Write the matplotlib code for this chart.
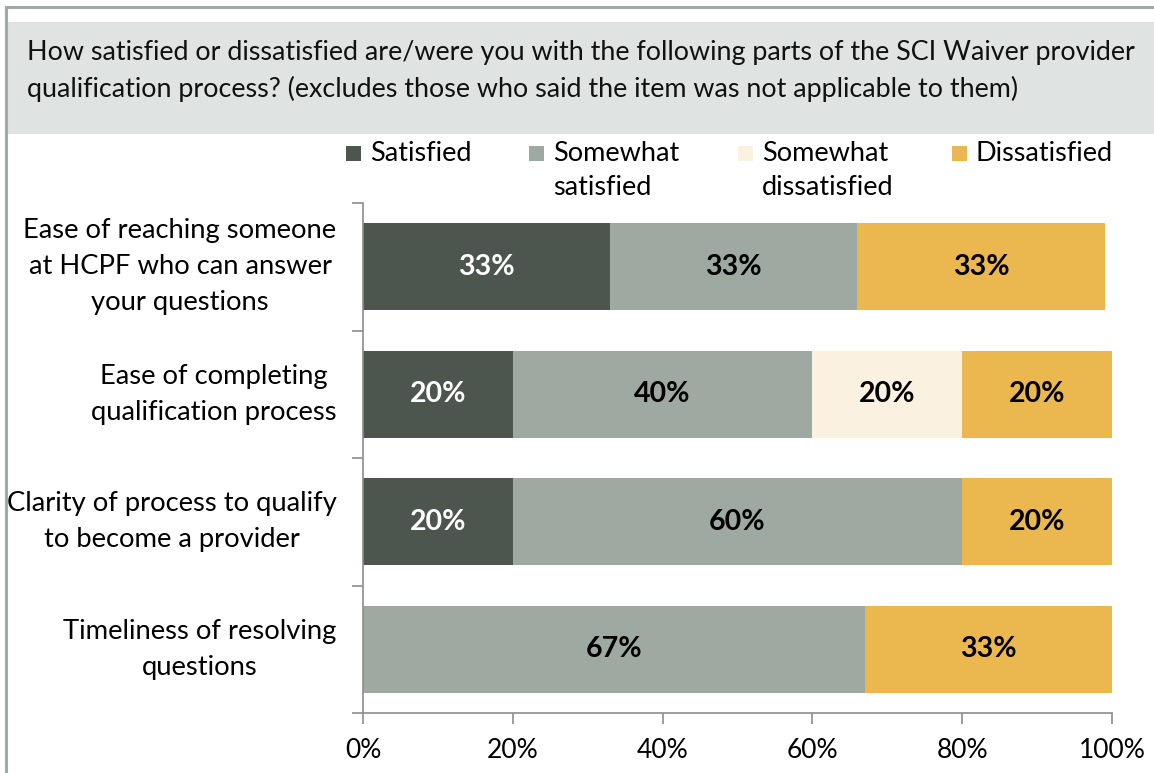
import matplotlib.pyplot as plt
from matplotlib.patches import Rectangle
from matplotlib.lines import Line2D
import numpy as np

plt.rcParams['font.family'] = ['Lato', 'DejaVu Sans']

# Data
categories = ['Ease of reaching someone\nat HCPF who can answer\nyour questions',
              'Ease of completing\nqualification process',
              'Clarity of process to qualify\nto become a provider',
              'Timeliness of resolving\nquestions']
series = ['Satisfied', 'Somewhat\nsatisfied', 'Somewhat\ndissatisfied', 'Dissatisfied']
satisfied = [33, 20, 20, 0]
somewhat_satisfied = [33, 40, 60, 67]
somewhat_dissatisfied = [0, 20, 0, 0]
dissatisfied = [33, 20, 20, 33]
colors = ['#4d564e', '#9eaaa1', '#faf1e0', '#ebb74f']
label_colors = ['white', 'black', 'black', 'black']
question = ('How satisfied or dissatisfied are/were you with the following parts of the SCI Waiver provider\n'
            'qualification process? (excludes those who said the item was not applicable to them)')

W, H = 1154, 773
fig = plt.figure(figsize=(W / 100, H / 100), dpi=100)

# frame lines and header box
frame_col = '#9eaba2'
fig.add_artist(Line2D([6 / W, 1], [1 - 7 / H, 1 - 7 / H], color=frame_col, lw=2.2))
fig.add_artist(Line2D([6 / W, 6 / W], [0, 1 - 7 / H], color=frame_col, lw=2.2))
fig.add_artist(Rectangle((8 / W, 1 - 134 / H), 1 - 8 / W, 112 / H, facecolor='#dfe3e2',
                         edgecolor='none'))
fig.text(27 / W, 1 - 71 / H, question, fontsize=19.4, va='center', ha='left',
         linespacing=1.5, color='#111111')

ax = fig.add_axes([363 / W, 1 - 713 / H, (1112 - 363) / W, (713 - 203) / H])

values = np.array([satisfied, somewhat_satisfied, somewhat_dissatisfied, dissatisfied], dtype=float)
y = np.arange(len(categories))
left = np.zeros(len(categories))
for i, name in enumerate(series):
    ax.barh(y, values[i] / 100, left=left / 100, height=0.68, color=colors[i], label=name)
    for j in range(len(categories)):
        v = values[i][j]
        if v > 0:
            ax.text((left[j] + v / 2) / 100, y[j], f'{v:.0f}%', ha='center', va='center',
                    fontsize=20.5, fontweight='bold', color=label_colors[i])
    left += values[i]

ax.set_ylim(len(categories) - 0.5, -0.5)
ax.set_xlim(0, 1)
ax.set_yticks(y)
ax.set_yticklabels(categories, fontsize=19.7, ha='right', multialignment='center',
                   linespacing=1.55, va='center')
ax.tick_params(axis='y', length=0, pad=19)
ax.set_yticks(np.arange(len(categories) + 1) - 0.5, minor=True)
ax.tick_params(axis='y', which='minor', length=8, width=1.2, color='#8c8c8c')
ax.set_xticks(np.linspace(0, 1, 6))
ax.set_xticklabels([f'{int(t)}%' for t in np.linspace(0, 100, 6)], fontsize=19)
ax.tick_params(axis='x', length=8, width=1.2, color='#8c8c8c', pad=10, direction='out')
for s in ['top', 'right']:
    ax.spines[s].set_visible(False)
for s in ['left', 'bottom']:
    ax.spines[s].set_color('#8c8c8c')
    ax.spines[s].set_linewidth(1.2)

# legend
sq_x = [346, 529, 738, 952]
for i, name in enumerate(series):
    fig.add_artist(Rectangle((sq_x[i] / W, 1 - 161 / H), 15 / W, 15 / H, facecolor=colors[i],
                             edgecolor='none'))
    fig.text((sq_x[i] + 24) / W, 1 - 141 / H, name, fontsize=19.5, va='top', ha='left',
             linespacing=1.45)

fig.savefig('out.png', dpi=100)
